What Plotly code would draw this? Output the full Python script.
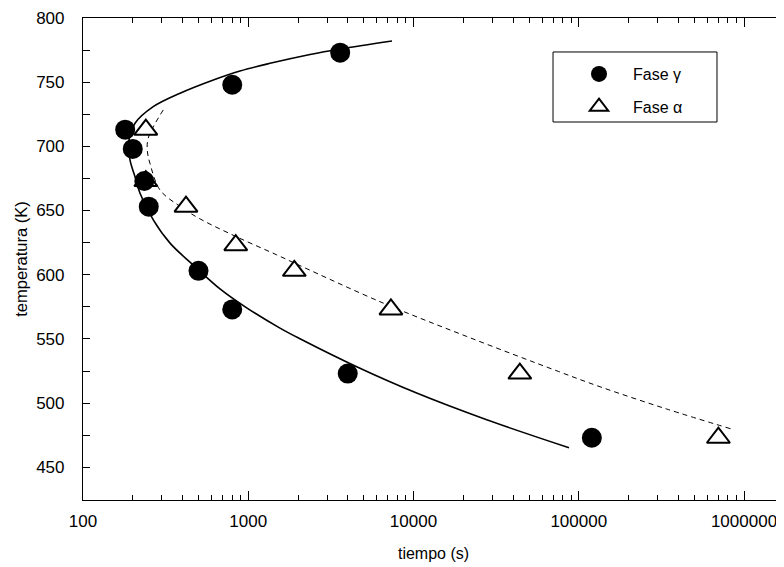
import plotly.graph_objects as go

# ---- data ----
gamma_t = [180, 200, 235, 250, 500, 800, 800, 3600, 4000, 120000]
gamma_T = [713, 698, 673, 653, 603, 573, 748, 773, 523, 473]

alpha_t = [240, 240, 420, 840, 1900, 7300, 44000, 700000]
alpha_T = [713, 673, 653, 623, 603, 573, 523, 473]

# fitted curves
gamma_fit_t = [87300, 27730, 10450, 4532, 2056, 1556, 978.6, 674.5, 487.6, 336.2,
               266.3, 221.3, 206.4, 192.5, 190, 206.5, 266, 387, 615, 891, 1355,
               2365, 3600, 7410]
gamma_fit_T = [465.2, 487.0, 507.8, 528.3, 550.1, 558.4, 574.2, 589.0, 605.1, 624.6,
               642.7, 663.5, 676.4, 689.4, 705.0, 718.0, 730.9, 741.4, 751.7, 758.7,
               764.7, 771.6, 775.9, 782.1]

alpha_fit_t = [306, 248, 245.5, 254, 292, 387, 511, 851, 1486, 2056, 6560, 21000,
               75500, 134600, 340000, 830000]
alpha_fit_T = [728.4, 706.3, 695.7, 686.9, 666.1, 653.2, 643.5, 629.5, 615.5, 607.1,
               577.9, 551.9, 524.6, 512.7, 495.4, 480.0]

x_tickvals = [100, 1000, 10000, 100000, 1000000]
x_ticktext = ["100", "1000", "10000", "100000", "1000000"]

x_title = "tiempo (s)"
y_title = "temperatura (K)"
gamma_name = "Fase γ"
alpha_name = "Fase α"

# ---- figure ----
FONT = "Arial, Liberation Sans, sans-serif"
fig = go.Figure()

fig.add_trace(go.Scatter(x=alpha_fit_t, y=alpha_fit_T, mode="lines",
                         line=dict(color="black", width=1, dash="5px,4px", shape="spline"),
                         showlegend=False, hoverinfo="skip"))
fig.add_trace(go.Scatter(x=gamma_fit_t, y=gamma_fit_T, mode="lines",
                         line=dict(color="black", width=1.6, shape="spline"),
                         showlegend=False, hoverinfo="skip"))
fig.add_trace(go.Scatter(x=alpha_t, y=alpha_T, mode="markers", name=alpha_name,
                         marker=dict(symbol="triangle-up", size=20, color="white",
                                     line=dict(color="black", width=2)),
                         legendrank=2, legendgroup="a"))
fig.add_trace(go.Scatter(x=gamma_t, y=gamma_T, mode="markers", name=gamma_name,
                         marker=dict(symbol="circle", size=20, color="black",
                                     line=dict(color="black", width=0)),
                         legendrank=1, legendgroup="g"))

minor_vals = [m * 10 ** e for e in range(2, 7) for m in range(2, 10)]

# legend frame (paper coordinates)
fig.add_shape(type="rect", xref="paper", yref="paper",
              x0=0.6705, x1=0.9044, y0=0.7842, y1=0.9295,
              line=dict(color="black", width=1), fillcolor="rgba(0,0,0,0)")

# the page body adds an 8px offset, so the figure is sized 8px smaller
fig.update_layout(
    width=776, height=559,
    margin=dict(l=75, r=0, t=10, b=67),
    paper_bgcolor="white", plot_bgcolor="white",
    font=dict(family=FONT, size=16, color="black"),
    legend=dict(x=0.6876, y=0.919, xanchor="left", yanchor="top",
                borderwidth=0, bgcolor="rgba(0,0,0,0)",
                font=dict(size=16), tracegroupgap=9, itemsizing="trace",
                itemwidth=58),
    xaxis=dict(type="log", range=[2, 6.242], showline=True, linecolor="black",
               linewidth=1.2, mirror="ticks", ticks="inside", ticklen=9,
               tickcolor="black", tickwidth=1.2,
               tickmode="array", tickvals=x_tickvals, ticktext=x_ticktext,
               tickfont=dict(size=17), showgrid=False, zeroline=False,
               automargin=False, ticklabelstandoff=5,
               minor=dict(tickmode="array", tickvals=minor_vals, ticks="inside",
                          ticklen=5, tickcolor="black", tickwidth=1.2, showgrid=False),
               title=dict(text=x_title, font=dict(size=16), standoff=18)),
    yaxis=dict(range=[424.5, 800], showline=True, linecolor="black", linewidth=1.2,
               mirror=False, ticks="inside", ticklen=7, tickcolor="black",
               tickwidth=1.2, dtick=50, tick0=0, tickfont=dict(size=17),
               showgrid=False, zeroline=False, automargin=False, ticklabelstandoff=14,
               minor=dict(dtick=25, ticks="inside", ticklen=7, tickcolor="black",
                          tickwidth=1.2, showgrid=False),
               title=dict(text=y_title, font=dict(size=16.5), standoff=4)),
)

fig.write_html("out.html")
